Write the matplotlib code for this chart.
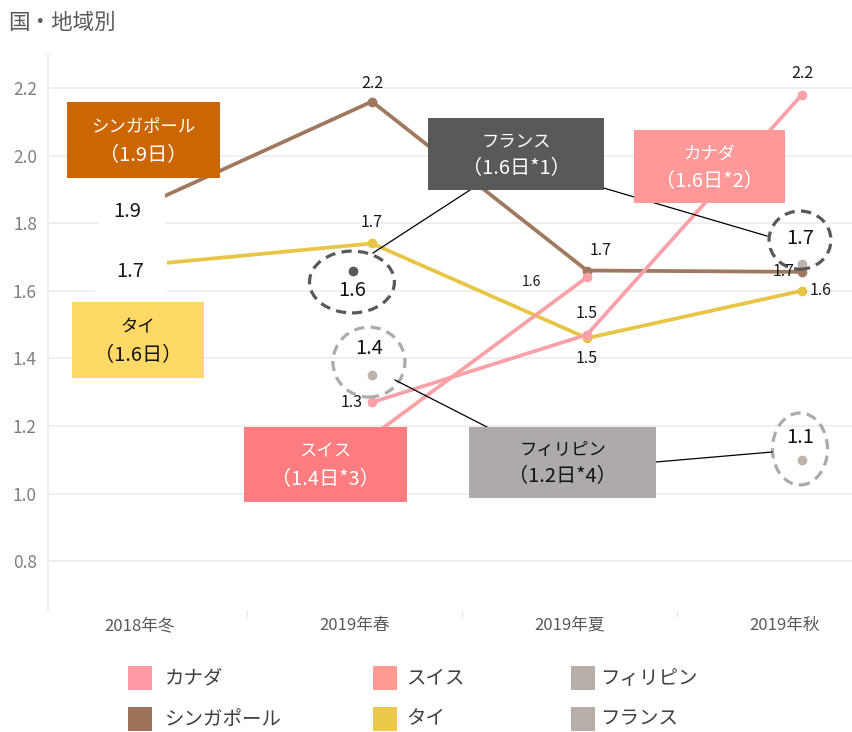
import numpy as np
import matplotlib
matplotlib.use("Agg")
import matplotlib.pyplot as plt
from matplotlib.patches import Rectangle, Ellipse
from matplotlib.lines import Line2D
from matplotlib.transforms import offset_copy

plt.rcParams['font.family'] = ['Noto Sans CJK JP', 'DejaVu Sans']

# ---------------- data ----------------
categories = ['2018年冬', '2019年春', '2019年夏', '2019年秋']
nan = np.nan
canada = [nan, 1.27, 1.47, 2.18]
swiss = [nan, 1.17, 1.64, nan]
singapore = [1.87, 2.16, 1.66, 1.656]
thai = [1.68, 1.74, 1.46, 1.60]
philippines = [nan, 1.35, nan, 1.10]
france = [nan, 1.66, nan, 1.68]

canada_labels = ['', '1.3', '1.5', '2.2']
swiss_labels = ['', '', '1.6', '']
singapore_labels = ['1.9', '2.2', '1.7', '1.7']
thai_labels = ['1.7', '1.7', '1.5', '1.6']
philippines_labels = ['', '1.4', '', '1.1']
france_labels = ['', '1.6', '', '1.7']

legend_names = ['カナダ', 'シンガポール', 'スイス', 'タイ', 'フィリピン', 'フランス']
legend_colors = ['#ff9ba4', '#9c7359', '#ff9a93', '#ecc94b', '#b8aea9', '#b8aea9']

box_names = ['シンガポール', 'タイ', 'フランス', 'カナダ', 'スイス', 'フィリピン']
box_notes = ['（1.9日）', '（1.6日）', '（1.6日*1）', '（1.6日*2）', '（1.4日*3）', '（1.2日*4）']

# ---------------- figure ----------------
W, H = 852, 732
fig = plt.figure(figsize=(W / 100, H / 100), dpi=100)


def fx(x):
    return x / W


def fy(y):
    return 1 - y / H


ax = fig.add_axes([fx(48), fy(610), 1 - fx(48), (610 - 55) / H])
ax.set_xlim(-0.507, 3.233)
ax.set_ylim(0.6556, 2.2976)
PX_X = (3.233 + 0.507) / (W - 48)          # data units per pixel (x)
PX_Y = (2.2976 - 0.6556) / (610 - 55)      # data units per pixel (y)

yt = [0.8, 1.0, 1.2, 1.4, 1.6, 1.8, 2.0, 2.2]
ax.set_yticks(yt)
ax.set_yticklabels([f'{v:.1f}' for v in yt], color='#7f7f7f', fontsize=12.5)
ax.tick_params(axis='y', length=0, pad=8)
for v in yt:
    ax.axhline(v, color='#efefef', lw=1.3, zorder=0)

x = np.arange(len(categories))
ax.set_xticks(x - 0.08)
ax.set_xticklabels(categories, color='#595959', fontsize=12)
ax.tick_params(axis='x', length=0, pad=5)
ax.set_xticks(x[:-1] + 0.42, minor=True)
ax.tick_params(axis='x', which='minor', length=5, color='#e6e6e6', width=1)

for s in ['top', 'right', 'bottom']:
    ax.spines[s].set_visible(False)
ax.spines['left'].set_color('#eeeeee')
ax.spines['left'].set_linewidth(1.3)

lw = 2.7
ms = 6
ax.plot(x, singapore, color='#a07860', lw=lw, marker='o', ms=ms, zorder=3)
ax.plot(x, thai, color='#e8c547', lw=lw, marker='o', ms=ms, zorder=3)
ax.plot(x, swiss, color='#f8a2a6', lw=lw, marker='o', ms=ms, zorder=3)
ax.plot(x, canada, color='#f9a0a8', lw=lw, marker='o', ms=ms, zorder=4)

# France / Philippines points
fr_dx = [0, -0.09, 0, 0]
fr_cols = ['#595959', '#595959', '#595959', '#bdb3ad']
for i, v in enumerate(france):
    if not np.isnan(v):
        ax.plot(x[i] + fr_dx[i], v, 'o', color=fr_cols[i], ms=ms, zorder=5)
for i, v in enumerate(philippines):
    if not np.isnan(v):
        ax.plot(x[i], v, 'o', color='#bdb3ad', ms=ms, zorder=5)


# value labels
def vlabel(vals, labels, offsets, size=11.5, box=None):
    for i, (v, t) in enumerate(zip(vals, labels)):
        if t and not np.isnan(v):
            dx, dy = offsets[i]
            boxed = box is not None and i == 0
            if boxed:
                bdx, bdy, bw, bh = box
                tr = offset_copy(ax.transData, fig=fig, x=bdx, y=-bdy, units='dots')
                ax.add_patch(Rectangle((x[i] - bw * PX_X / 2, v - bh * PX_Y / 2),
                                       bw * PX_X, bh * PX_Y, transform=tr,
                                       fc='white', ec='none', zorder=7))
            ax.annotate(t, (x[i], v), xytext=(dx, -dy), textcoords='offset pixels',
                        ha='center', va='center', fontsize=(14.5 if boxed else size),
                        color='#1a1a1a', zorder=8)


vlabel(canada, canada_labels, [(0, 0), (-20, 0), (0, -21), (0, -21)])
vlabel(swiss, swiss_labels, [(0, 0), (0, 0), (-56, 5), (0, 0)], size=10)
vlabel(singapore, singapore_labels, [(-30, 12), (0, -18), (14, -20), (-18, 0)],
       box=(-24.5, 11.5, 66, 45))
vlabel(thai, thai_labels, [(-27, 8), (0, -21), (0, 20), (19, 0)],
       box=(-26, 8.5, 72, 45))

# dashed ellipses with value text
dark, light = '#595959', '#aeaaaa'
ell = [  # (x, y, w, h, color, text, ty)
    (0.907, 1.626, 0.395, 0.183, dark, france_labels[1], 1.60),
    (0.986, 1.389, 0.335, 0.207, light, philippines_labels[1], 1.43),
    (2.991, 1.750, 0.288, 0.172, dark, france_labels[3], 1.756),
    (2.991, 1.132, 0.256, 0.213, light, philippines_labels[3], 1.167),
]
for ex, ey, ew, eh, c, t, ty in ell:
    ax.add_patch(Ellipse((ex, ey), ew, eh, fill=False, ec=c, lw=2.3,
                         ls=(0, (3.2, 2)), zorder=6))
    ax.text(ex, ty, t, ha='center', va='center', fontsize=14.5, color='#111111', zorder=8)

# leader lines (figure pixel coordinates)
leaders = [((470, 190), (373, 253)), ((590, 184), (767, 236)),
           ((487, 427), (395, 380)), ((656, 462), (772, 452))]
for (x0, y0), (x1, y1) in leaders:
    fig.add_artist(Line2D([fx(x0), fx(x1)], [fy(y0), fy(y1)], color='black', lw=0.9,
                          zorder=9))

# name boxes
boxes = [  # x0, y0, x1, y1, face, textcolor
    (67, 102, 220, 178, '#cc6600', 'white'),
    (72, 302, 204, 378, '#ffd966', '#111111'),
    (428, 118, 604, 190, '#595959', 'white'),
    (634, 130, 785, 203, '#ff9999', 'white'),
    (244, 427, 407, 502, '#ff7c80', 'white'),
    (469, 427, 656, 498, '#aeaaaa', '#111111'),
]
for (x0, y0, x1, y1, fc, tc), n, note in zip(boxes, box_names, box_notes):
    fig.add_artist(Rectangle((fx(x0), fy(y1)), (x1 - x0) / W, (y1 - y0) / H,
                             transform=fig.transFigure, fc=fc, ec='none', zorder=10))
    cx = (x0 + x1) / 2
    h = y1 - y0
    fig.text(fx(cx), fy(y0 + h * 0.33), n, ha='center', va='center', fontsize=12.5,
             color=tc, zorder=11)
    fig.text(fx(cx), fy(y0 + h * 0.70), note, ha='center', va='center', fontsize=14.5,
             color=tc, zorder=11)

# title
fig.text(fx(8), fy(23), '国・地域別', ha='left', va='center', fontsize=15.5, color='#595959')

# legend (3 columns x 2 rows, filled column-wise)
col_sq = [128, 373, 571]
col_tx = [165, 406, 600]
row_y = [678, 719]
for k, (n, c) in enumerate(zip(legend_names, legend_colors)):
    ci, ri = k // 2, k % 2
    fig.add_artist(Rectangle((fx(col_sq[ci]), fy(row_y[ri] + 12)), 24 / W, 24 / H,
                             transform=fig.transFigure, fc=c, ec='none'))
    fig.text(fx(col_tx[ci]), fy(row_y[ri]), n, ha='left', va='center', fontsize=14,
             color='#404040')

fig.savefig('out.png', dpi=100)
